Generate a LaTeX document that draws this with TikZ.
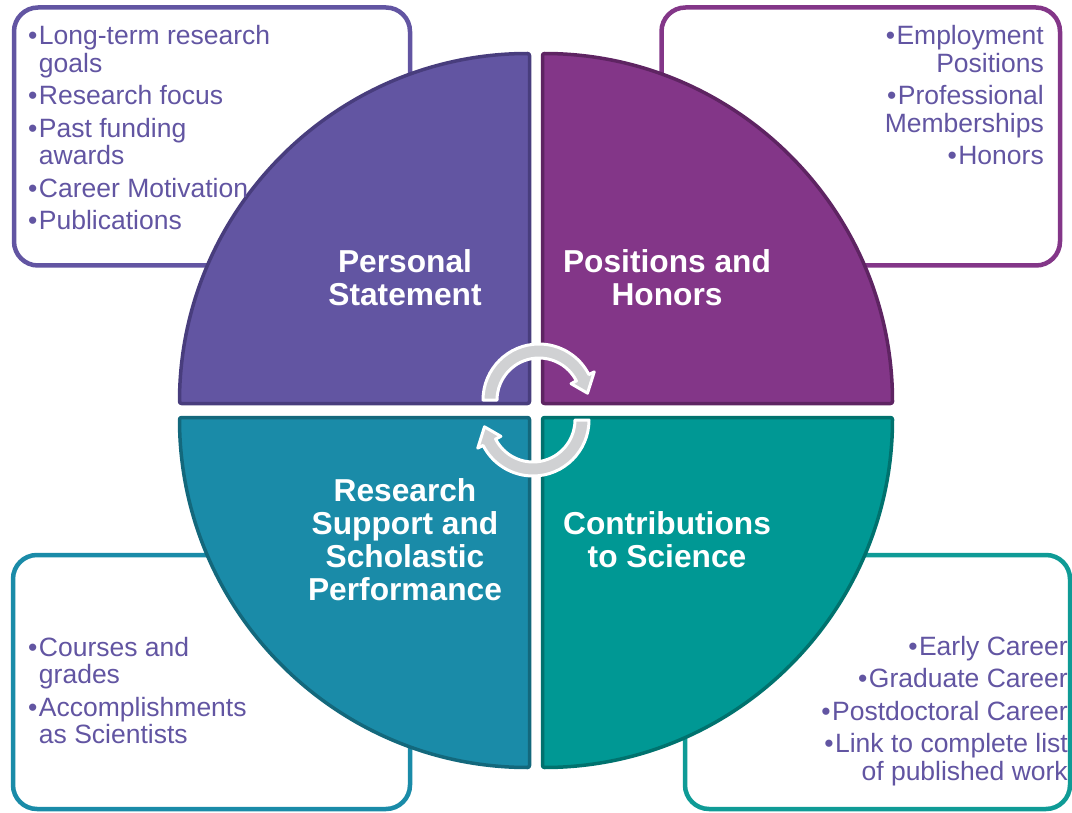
\documentclass[tikz,border=0pt]{standalone}
\usepackage{fontspec}
\setmainfont{Liberation Sans}
\definecolor{cTL}{HTML}{6255A2}
\definecolor{dTL}{HTML}{483D7D}
\definecolor{cTR}{HTML}{833688}
\definecolor{dTR}{HTML}{5E2462}
\definecolor{cBL}{HTML}{1A8BA8}
\definecolor{dBL}{HTML}{13687C}
\definecolor{cBR}{HTML}{009894}
\definecolor{dBR}{HTML}{00726E}
\definecolor{bBR}{HTML}{0F9B96}
\definecolor{txt}{HTML}{6255A2}
\definecolor{agray}{HTML}{D0D1D3}
\begin{document}
\begin{tikzpicture}[x=1pt,y=1pt,
  boxline/.style={line width=4.5pt, rounded corners=24pt, fill=white},
  quad/.style={line width=3.5pt, rounded corners=2pt, line join=round},
  cyc/.style={fill=agray, draw=white, line width=3pt, line join=round},
  bul/.style={inner sep=0pt, text=txt, font=\fontsize{26.5}{27.5}\selectfont},
  lab/.style={inner sep=0pt, text=white, font=\bfseries\fontsize{31.7}{33}\selectfont}]
\useasboundingbox (0,0) rectangle (1072,-813);
% outer boxes
\draw[boxline, draw=cTL] (14,-7.5) rectangle (410,-265.5);
\draw[boxline, draw=cTR] (661.5,-7.5) rectangle (1060,-265.5);
\draw[boxline, draw=cBL] (13,-555) rectangle (410,-809);
\draw[boxline, draw=bBR] (685,-555) rectangle (1070,-809);
% quadrants
\draw[quad, fill=cTL, draw=dTL] (529.5,-403.5) -- (179.5,-403.5) arc[start angle=180, end angle=90, radius=350] -- cycle;
\draw[quad, fill=cTR, draw=dTR] (542.5,-403.5) -- (542.5,-53.5) arc[start angle=90, end angle=0, radius=350] -- cycle;
\draw[quad, fill=cBL, draw=dBL] (529.5,-417.5) -- (529.5,-767.5) arc[start angle=270, end angle=180, radius=350] -- cycle;
\draw[quad, fill=cBR, draw=dBR] (542.5,-417.5) -- (892.5,-417.5) arc[start angle=0, end angle=-90, radius=350] -- cycle;
% cycle arrows
\begin{scope}[shift={(539,-400)}]
\draw[cyc] (180:56) arc[start angle=180, end angle=27, radius=56] -- (27:62) -- (8:49) -- (27:36) -- (27:42) arc[start angle=27, end angle=180, radius=42] -- cycle;
\end{scope}
\begin{scope}[shift={(533,-420)}, rotate=180]
\draw[cyc] (180:56) arc[start angle=180, end angle=27, radius=56] -- (27:62) -- (8:49) -- (27:36) -- (27:42) arc[start angle=27, end angle=180, radius=42] -- cycle;
\end{scope}
% quadrant labels
\node[lab, anchor=base] (lTL) at (405,-272.5) {\begin{tabular}[t]{@{}c@{}}Personal\\Statement\end{tabular}};
\node[lab, anchor=base] (lTR) at (667,-272.5) {\begin{tabular}[t]{@{}c@{}}Positions and\\Honors\end{tabular}};
\node[lab, anchor=base] (lBL) at (405,-501.5) {\begin{tabular}[t]{@{}c@{}}Research\\Support and\\Scholastic\\Performance\end{tabular}};
\node[lab, anchor=base] (lBR) at (667,-534.5) {\begin{tabular}[t]{@{}c@{}}Contributions\\to Science\end{tabular}};
% bullet lists
\node[bul, anchor=base west] (tTL) at (28,-45) {\begin{tabular}[t]{@{}l@{\hspace{1.5pt}}l@{}}•&Long-term research\\&goals\\[5pt]•&Research focus\\[5pt]•&Past funding\\&awards\\[5pt]•&Career Motivation\\[5pt]•&Publications\end{tabular}};
\node[bul, anchor=base east] (tTR) at (1044,-45) {\begin{tabular}[t]{@{}r@{}}•\hspace{1.5pt}Employment\\Positions\\[5pt]•\hspace{1.5pt}Professional\\Memberships\\[5pt]•\hspace{1.5pt}Honors\end{tabular}};
\node[bul, anchor=base west] (tBL) at (28,-656) {\begin{tabular}[t]{@{}l@{\hspace{1.5pt}}l@{}}•&Courses and\\&grades\\[5pt]•&Accomplishments\\&as Scientists\end{tabular}};
\node[bul, anchor=base east] (tBR) at (1068,-655) {\begin{tabular}[t]{@{}r@{}}•\hspace{1.5pt}Early Career\\[5pt]•\hspace{1.5pt}Graduate Career\\[5pt]•\hspace{1.5pt}Postdoctoral Career\\[5pt]•\hspace{1.5pt}Link to complete list\\of published work\end{tabular}};
\end{tikzpicture}
\end{document}
